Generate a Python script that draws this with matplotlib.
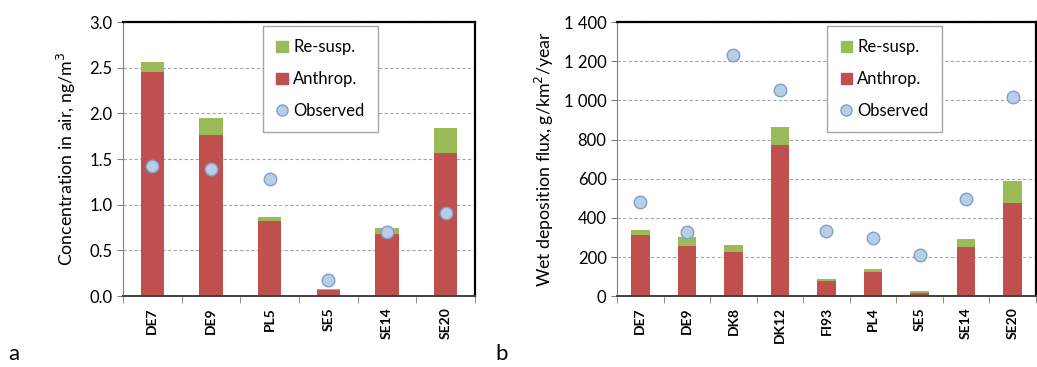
import numpy as np
import matplotlib.pyplot as plt
from matplotlib.ticker import FuncFormatter, FixedLocator
from matplotlib.lines import Line2D
from matplotlib.patches import Patch

plt.rcParams['font.family'] = ['Lato', 'DejaVu Sans']

# panel a: concentration in air, ng/m3
sites_a = ["DE7", "DE9", "PL5", "SE5", "SE14", "SE20"]
anthrop_a = [2.45, 1.76, 0.82, 0.066, 0.68, 1.57]
resusp_a = [0.11, 0.19, 0.05, 0.014, 0.07, 0.27]
observed_a = [1.42, 1.39, 1.28, 0.175, 0.70, 0.91]

# panel b: wet deposition flux, g/km2/year
sites_b = ["DE7", "DE9", "DK8", "DK12", "FI93", "PL4", "SE5", "SE14", "SE20"]
anthrop_b = [312, 257, 227, 772, 80, 121, 15, 249, 474]
resusp_b = [27, 45, 35, 92, 7, 19, 9, 41, 112]
observed_b = [479, 330, 1233, 1053, 332, 298, 208, 497, 1015]

RED = "#C0504D"
GREEN = "#9BBB59"
OBS_FACE = "#B9CDE5"
OBS_EDGE = "#7F9FCF"


def panel(ax, sites, anthrop, resusp, observed, ymax, ystep, ylabel, fmt, lpad):
    x = np.arange(len(sites))
    ax.bar(x, anthrop, width=0.4, color=RED, zorder=2)
    ax.bar(x, resusp, width=0.4, bottom=anthrop, color=GREEN, zorder=2)
    ax.plot(x, observed, "o", ms=9, mfc=OBS_FACE, mec=OBS_EDGE, mew=1.0, zorder=3)

    ax.set_xlim(-0.5, len(sites) - 0.5)
    ax.set_ylim(0, ymax)
    ax.set_yticks(np.arange(0, ymax + ystep / 2, ystep))
    ax.yaxis.set_major_formatter(FuncFormatter(fmt))
    ax.yaxis.grid(True, linestyle=(0, (3, 2)), color="#A6A6A6", lw=0.8, zorder=0)

    # Excel style: ticks between categories, labels at centres
    ax.set_xticks(x)
    ax.set_xticklabels(sites, rotation=90, fontsize=10, fontweight="bold")
    ax.tick_params(axis="x", length=0, pad=8)
    ax.xaxis.set_minor_locator(FixedLocator(np.arange(-0.5, len(sites), 1.0)))
    ax.tick_params(axis="x", which="minor", length=5, color="#808080")
    ax.tick_params(axis="y", length=4, color="#808080", labelsize=12)

    for s in ["top", "right"]:
        ax.spines[s].set_linewidth(1.6)
    ax.spines["left"].set_color("#808080")
    ax.spines["bottom"].set_linewidth(1.4)
    ax.spines["bottom"].set_color("#404040")
    ax.set_ylabel(ylabel, fontsize=12.8, labelpad=lpad)

    handles = [Patch(color=GREEN, label="Re-susp."),
               Patch(color=RED, label="Anthrop."),
               Line2D([], [], marker="o", ls="", ms=8, mfc=OBS_FACE, mec=OBS_EDGE,
                      label="Observed")]
    return handles


def add_legend(ax, handles, x0):
    leg = ax.legend(handles=handles, loc="upper left", bbox_to_anchor=(x0, 0.985),
                    fontsize=12, labelspacing=0.95, handlelength=0.7, handleheight=0.7,
                    handletextpad=0.3, borderpad=0.8, borderaxespad=0, fancybox=False,
                    edgecolor="#A6A6A6", framealpha=1)
    leg.get_frame().set_linewidth(1.0)


fig = plt.figure(figsize=(10.37, 3.67), dpi=100)
ax1 = fig.add_axes([0.1186, 0.193, 0.3395, 0.747])
ax2 = fig.add_axes([0.595, 0.193, 0.404, 0.747])

h = panel(ax1, sites_a, anthrop_a, resusp_a, observed_a, 3.0, 0.5,
          "Concentration in air, ng/m$^3$", lambda v, p: f"{v:.1f}", 8)
add_legend(ax1, h, 0.398)

h = panel(ax2, sites_b, anthrop_b, resusp_b, observed_b, 1400, 200,
          "Wet deposition flux, g/km$^2$/year",
          lambda v, p: f"{int(v):,}".replace(",", " "), 6)
add_legend(ax2, h, 0.502)

fig.text(0.008, 0.02, "a", fontsize=16)
fig.text(0.478, 0.02, "b", fontsize=16)

fig.savefig("out.png", dpi=100)
